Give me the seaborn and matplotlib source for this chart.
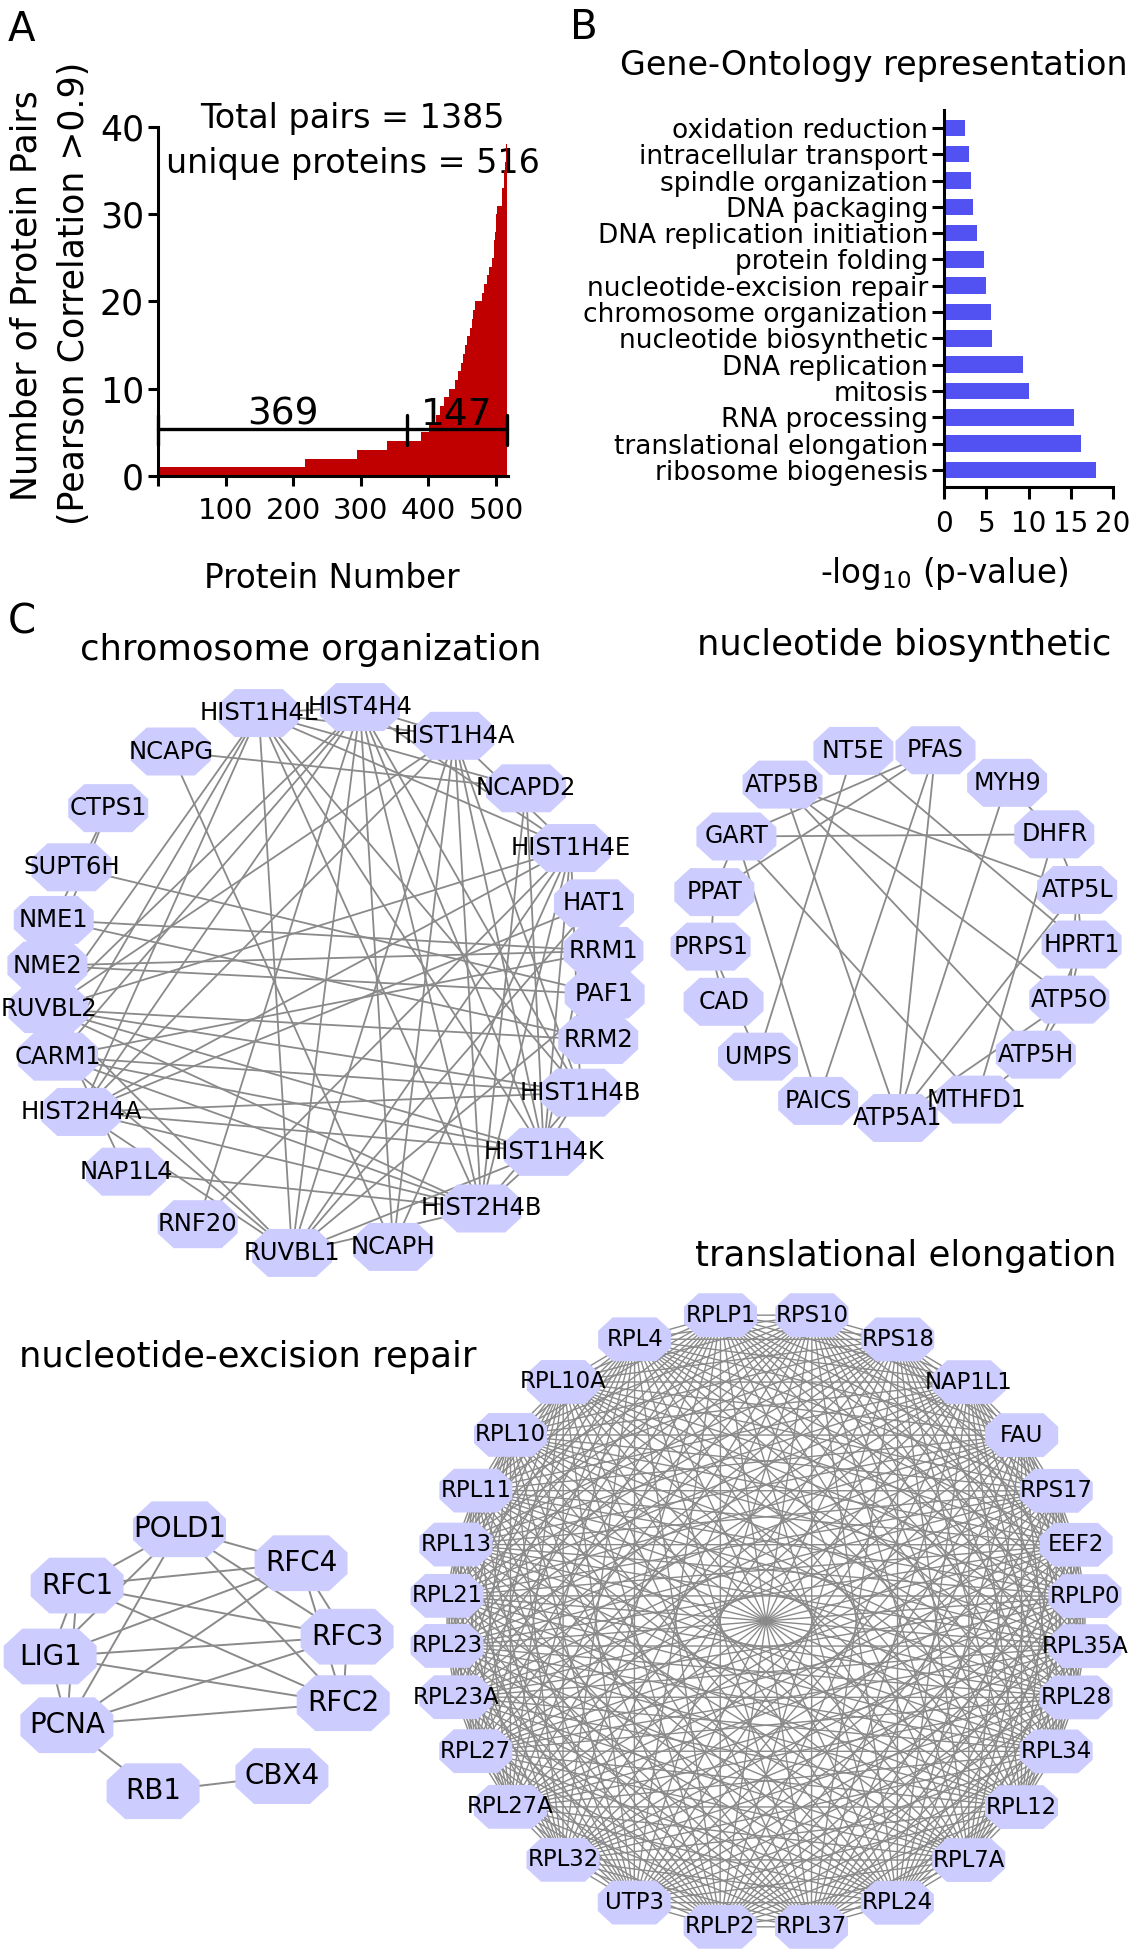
import numpy as np
import pandas as pd
import seaborn as sns
import matplotlib.pyplot as plt
from matplotlib.path import Path
from matplotlib.markers import MarkerStyle
from matplotlib.collections import LineCollection
from itertools import combinations

# ---- panel A: proteins sorted by number of correlated partners ----
# (partner count, number of proteins with that count)
pair_counts = [1, 2, 3, 4, 5, 6, 7, 8, 9, 10,
               11, 12, 13, 14, 15, 16, 17, 18, 19, 20,
               21, 22, 23, 24, 25, 26, 27, 28, 29, 30,
               31, 32, 33, 34, 35, 36, 37, 38]
n_proteins = [217, 77, 44, 50, 12, 10, 6, 6, 8, 9,
              5, 3, 3, 4, 3, 4, 3, 2, 3, 10,
              3, 4, 3, 5, 2, 1, 1, 1, 1, 1,
              7, 1, 2, 1, 1, 1, 1, 1]
group_sizes = [369, 147]
total_pairs = 1385
unique_proteins = 516

# ---- panel B: GO enrichment ----
go_terms = ['oxidation reduction', 'intracellular transport', 'spindle organization',
            'DNA packaging', 'DNA replication initiation', 'protein folding',
            'nucleotide-excision repair', 'chromosome organization',
            'nucleotide biosynthetic', 'DNA replication', 'mitosis',
            'RNA processing', 'translational elongation', 'ribosome biogenesis']
go_logp = [2.5, 2.9, 3.2, 3.4, 3.9, 4.75, 5.0, 5.6, 5.65, 9.4, 10.1, 15.4, 16.2, 18.0]

# ---- panel C: correlation networks ----
chrom_nodes = ['HIST1H4L', 'HIST4H4', 'HIST1H4A', 'NCAPD2', 'HIST1H4E', 'HAT1', 'RRM1',
               'PAF1', 'RRM2', 'HIST1H4B', 'HIST1H4K', 'HIST2H4B', 'NCAPH', 'RUVBL1',
               'RNF20', 'NAP1L4', 'HIST2H4A', 'CARM1', 'RUVBL2', 'NME2', 'NME1',
               'SUPT6H', 'CTPS1', 'NCAPG']
chrom_edges = [
    ('HIST1H4L', 'HIST4H4'), ('HIST1H4L', 'HIST1H4A'), ('HIST1H4L', 'HIST1H4E'),
    ('HIST1H4L', 'HIST1H4B'), ('HIST1H4L', 'HIST1H4K'), ('HIST1H4L', 'HIST2H4A'),
    ('HIST1H4L', 'HIST2H4B'), ('HIST4H4', 'HIST1H4A'), ('HIST4H4', 'HIST1H4E'),
    ('HIST4H4', 'HIST1H4B'), ('HIST4H4', 'HIST1H4K'), ('HIST4H4', 'HIST2H4A'),
    ('HIST4H4', 'HIST2H4B'), ('HIST1H4A', 'HIST1H4E'), ('HIST1H4A', 'HIST1H4B'),
    ('HIST1H4A', 'HIST1H4K'), ('HIST1H4A', 'HIST2H4A'), ('HIST1H4A', 'HIST2H4B'),
    ('HIST1H4E', 'HIST1H4B'), ('HIST1H4E', 'HIST1H4K'), ('HIST1H4E', 'HIST2H4A'),
    ('HIST1H4E', 'HIST2H4B'), ('HIST1H4B', 'HIST1H4K'), ('HIST1H4B', 'HIST2H4A'),
    ('HIST1H4B', 'HIST2H4B'), ('HIST1H4K', 'HIST2H4A'), ('HIST1H4K', 'HIST2H4B'),
    ('HIST2H4A', 'HIST2H4B'),
    ('RUVBL1', 'HIST1H4L'), ('RUVBL1', 'HIST4H4'), ('RUVBL1', 'HIST1H4A'),
    ('RUVBL1', 'HIST1H4E'), ('RUVBL1', 'HIST2H4B'), ('RUVBL1', 'HIST1H4K'),
    ('RUVBL1', 'CARM1'), ('RUVBL1', 'RUVBL2'), ('RUVBL1', 'HIST2H4A'),
    ('RUVBL1', 'HAT1'), ('RUVBL1', 'PAF1'),
    ('RUVBL2', 'HIST1H4L'), ('RUVBL2', 'HIST4H4'), ('RUVBL2', 'HIST1H4A'),
    ('RUVBL2', 'HIST1H4E'), ('RUVBL2', 'HIST1H4B'), ('RUVBL2', 'HIST1H4K'),
    ('RUVBL2', 'HIST2H4B'), ('RUVBL2', 'RRM2'), ('RUVBL2', 'NAP1L4'),
    ('CARM1', 'HIST1H4L'), ('CARM1', 'HIST4H4'), ('CARM1', 'HIST1H4B'),
    ('CARM1', 'HIST1H4K'), ('CARM1', 'HIST2H4B'), ('CARM1', 'RRM1'),
    ('NCAPG', 'NCAPD2'), ('NCAPG', 'NCAPH'),
    ('NCAPD2', 'HIST1H4L'), ('NCAPD2', 'HIST1H4K'), ('NCAPD2', 'HIST2H4B'),
    ('NCAPH', 'HIST1H4A'), ('NCAPH', 'HIST1H4E'), ('NCAPH', 'HIST4H4'),
    ('CTPS1', 'NME1'), ('CTPS1', 'NME2'),
    ('NME1', 'NME2'), ('NME1', 'RRM1'), ('NME1', 'RRM2'),
    ('NME2', 'RRM1'), ('NME2', 'PAF1'), ('SUPT6H', 'PAF1'),
    ('RNF20', 'HIST1H4E'), ('RNF20', 'HIST4H4'),
    ('HAT1', 'HIST2H4A'), ('HAT1', 'HIST1H4K'), ('NAP1L4', 'HIST2H4B'),
    ('RRM1', 'RRM2'),
]

nuc_nodes = ['NT5E', 'PFAS', 'MYH9', 'DHFR', 'ATP5L', 'HPRT1', 'ATP5O', 'ATP5H', 'MTHFD1',
             'ATP5A1', 'PAICS', 'UMPS', 'CAD', 'PRPS1', 'PPAT', 'GART', 'ATP5B']
nuc_edges = [
    ('PFAS', 'GART'), ('PFAS', 'PPAT'), ('PFAS', 'ATP5A1'), ('PFAS', 'PAICS'),
    ('NT5E', 'HPRT1'), ('NT5E', 'UMPS'),
    ('ATP5B', 'ATP5L'), ('ATP5B', 'ATP5O'), ('ATP5B', 'ATP5H'), ('ATP5B', 'ATP5A1'),
    ('GART', 'DHFR'), ('GART', 'PPAT'), ('GART', 'PAICS'), ('GART', 'MTHFD1'),
    ('PPAT', 'PRPS1'), ('PRPS1', 'CAD'), ('PRPS1', 'UMPS'),
    ('MYH9', 'DHFR'), ('MYH9', 'ATP5A1'), ('DHFR', 'ATP5L'), ('DHFR', 'MTHFD1'),
    ('ATP5L', 'HPRT1'), ('ATP5L', 'ATP5O'), ('ATP5L', 'ATP5A1'),
    ('HPRT1', 'ATP5O'), ('HPRT1', 'ATP5H'), ('ATP5O', 'ATP5H'), ('ATP5O', 'ATP5A1'),
    ('ATP5H', 'MTHFD1'), ('MTHFD1', 'ATP5A1'),
]

ner_nodes = ['POLD1', 'RFC4', 'RFC3', 'RFC2', 'CBX4', 'RB1', 'PCNA', 'LIG1', 'RFC1']
ner_edges = [
    ('POLD1', 'RFC1'), ('POLD1', 'RFC4'), ('POLD1', 'LIG1'), ('POLD1', 'PCNA'),
    ('POLD1', 'RFC3'), ('POLD1', 'RFC2'),
    ('RFC1', 'RFC4'), ('RFC1', 'RFC3'), ('RFC1', 'RFC2'), ('RFC1', 'LIG1'), ('RFC1', 'PCNA'),
    ('RFC4', 'LIG1'), ('RFC4', 'PCNA'), ('RFC4', 'RFC3'), ('RFC4', 'RFC2'),
    ('RFC3', 'RFC2'), ('RFC3', 'LIG1'), ('RFC3', 'PCNA'),
    ('RFC2', 'LIG1'), ('RFC2', 'PCNA'), ('LIG1', 'PCNA'),
    ('PCNA', 'RB1'), ('RB1', 'CBX4'),
]

trans_nodes = ['RPLP1', 'RPS10', 'RPS18', 'NAP1L1', 'FAU', 'RPS17', 'EEF2', 'RPLP0',
               'RPL35A', 'RPL28', 'RPL34', 'RPL12', 'RPL7A', 'RPL24', 'RPL37', 'RPLP2',
               'UTP3', 'RPL32', 'RPL27A', 'RPL27', 'RPL23A', 'RPL23', 'RPL21', 'RPL13',
               'RPL11', 'RPL10', 'RPL10A', 'RPL4']
# this module is fully connected
trans_edges = list(combinations(trans_nodes, 2))

# ---------------- figure ----------------
W, H = 1140, 1950
sns.set_style('ticks')
plt.rcParams['font.family'] = ['DejaVu Sans']
plt.rcParams.update({'text.color': 'black', 'axes.labelcolor': 'black',
                     'axes.edgecolor': 'black', 'xtick.color': 'black',
                     'ytick.color': 'black'})

fig = plt.figure(figsize=(W / 100, H / 100), dpi=100)


def box(left, top, right, bottom):
    # pixel box -> figure fraction rectangle
    return [left / W, 1 - bottom / H, (right - left) / W, (bottom - top) / H]


# overlay in pixel units for networks and free text
net = fig.add_axes([0, 0, 1, 1])
net.axis('off')

# ---- A ----
axA = fig.add_axes(box(158, 127, 507.5, 476))
dfA = pd.DataFrame({'protein': np.arange(1, unique_proteins + 1),
                    'pairs': np.repeat(pair_counts, n_proteins)})
sns.barplot(data=dfA, x='protein', y='pairs', native_scale=True, color='#c00000',
            saturation=1, width=1, linewidth=0, edgecolor='none', errorbar=None, ax=axA)
axA.set_xlim(0, 517)
axA.set_ylim(0, 40)
axA.set_xticks([0, 100, 200, 300, 400, 500])
axA.set_xticklabels(['', '100', '200', '300', '400', '500'])
axA.set_yticks([0, 10, 20, 30, 40])
axA.set_xlabel('')
axA.set_ylabel('')
sns.despine(ax=axA)
for s in ['left', 'bottom']:
    axA.spines[s].set_linewidth(2.2)
axA.tick_params(length=7, width=2.2, color='black')
axA.tick_params(axis='y', labelsize=25, pad=3)
axA.tick_params(axis='x', labelsize=21, pad=8)

# bracket splitting the proteins into two groups
edges_x = np.concatenate([[0], np.cumsum(group_sizes)])
axA.plot([edges_x[0], edges_x[-1]], [5.35, 5.35], color='black', lw=2.4,
         clip_on=False, zorder=4)
for xv in edges_x:
    axA.plot([xv, xv], [3.55, 7.0], color='black', lw=2.4, clip_on=False, zorder=4)
for a, b, n in zip(edges_x[:-1], edges_x[1:], group_sizes):
    axA.text((a + b) / 2, 5.85, str(n), ha='center', va='baseline', fontsize=27, zorder=5)

axA.text(352 / W, 1 - 128 / H, f'Total pairs = {total_pairs}', transform=fig.transFigure,
         ha='center', va='baseline', fontsize=24, zorder=0.5)
axA.text(353 / W, 1 - 173 / H, f'unique proteins = {unique_proteins}',
         transform=fig.transFigure, ha='center', va='baseline', fontsize=24, zorder=0.5)

# ---- B ----
axB = fig.add_axes(box(944, 110, 1113, 487))
sns.barplot(x=go_logp, y=go_terms, orient='h', color='#5252f2', saturation=1,
            width=0.63, linewidth=0, errorbar=None, ax=axB)
axB.set_xlim(0, 20)
axB.set_ylim(13.65, -0.68)
axB.set_xticks([0, 5, 10, 15, 20])
sns.despine(ax=axB)
for s in ['left', 'bottom']:
    axB.spines[s].set_linewidth(2.2)
axB.tick_params(length=8.5, width=2.2, color='black')
axB.tick_params(axis='y', labelsize=19, pad=3)
axB.tick_params(axis='x', labelsize=20, pad=8)

# ---- C: networks ----
oct_verts = [(-0.6, 0.6), (0.6, 0.6), (1, 0.23), (1, -0.23), (0.6, -0.6),
             (-0.6, -0.6), (-1, -0.23), (-1, 0.23), (-0.6, 0.6)]
octagon = MarkerStyle(Path(oct_verts, closed=True))


def ring(nodes, cx, cy, rx, ry, start, warp):
    # circular layout, clockwise from the top; warp opens the gaps at top and bottom
    theta = start + 360.0 / len(nodes) * np.arange(len(nodes))
    ang = np.radians(theta + warp * np.sin(np.radians(2 * theta)))
    return pd.DataFrame({'name': nodes, 'x': cx + rx * np.sin(ang), 'y': cy - ry * np.cos(ang)})


def draw_net(nodes, edges, cx, cy, rx, ry, start, warp, node_px, fsize, lw):
    pos = ring(nodes, cx, cy, rx, ry, start, warp)
    xy = {n: (x, y) for n, x, y in zip(pos['name'], pos['x'], pos['y'])}
    segs = [[xy[a], xy[b]] for a, b in edges]
    net.add_collection(LineCollection(segs, colors='#8a8a8a', linewidths=lw, zorder=1))
    sns.scatterplot(data=pos, x='x', y='y', marker=octagon, s=(node_px * 0.72) ** 2,
                    color='#ccccff', linewidth=0, edgecolor='none', legend=False,
                    ax=net, zorder=2)
    for n, x, y in zip(pos['name'], pos['x'], pos['y']):
        net.text(x, y, n, ha='center', va='center', fontsize=fsize, zorder=3)


draw_net(chrom_nodes, chrom_edges, 326, 980, 279, 275, -10, 11.5, 80, 17.5, 1.3)
draw_net(nuc_nodes, nuc_edges, 896, 932, 186, 186, -11, 6, 80, 17, 1.3)
draw_net(ner_nodes, ner_edges, 200, 1663, 150, 135, -6, 9, 93, 20, 1.4)
draw_net(trans_nodes, trans_edges, 766, 1621, 320, 309, -6.4, 8, 73, 16.4, 1.0)

net.set_xlim(0, W)
net.set_ylim(H, 0)
net.axis('off')

# titles, letters and axis labels (pixel positions)
net.text(21, 30, 'A', ha='center', va='center', fontsize=29)
net.text(584, 28, 'B', ha='center', va='center', fontsize=29)
net.text(22, 622, 'C', ha='center', va='center', fontsize=29)

net.text(27, 296, 'Number of Protein Pairs', rotation=90, ha='center', va='center',
         fontsize=25)
net.text(74, 293, '(Pearson Correlation >0.9)', rotation=90, ha='center', va='center',
         fontsize=25)
net.text(332, 579, 'Protein Number', ha='center', va='center', fontsize=23.5)

net.text(874, 75, 'Gene-Ontology representation', ha='center', va='baseline', fontsize=24)
net.text(944, 573, '-log$_{10}$ (p-value)', ha='center', va='center', fontsize=23.5)

net.text(311, 660, 'chromosome organization', ha='center', va='baseline', fontsize=25.5)
net.text(904, 655, 'nucleotide biosynthetic', ha='center', va='baseline', fontsize=25.5)
net.text(248, 1367, 'nucleotide-excision repair', ha='center', va='baseline', fontsize=25.5)
net.text(906, 1266, 'translational elongation', ha='center', va='baseline', fontsize=25.5)

fig.savefig('out.png', dpi=100)
